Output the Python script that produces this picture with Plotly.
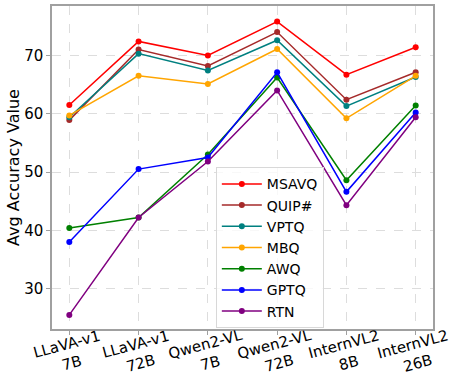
import plotly.graph_objects as go

categories = ["LLaVA-v1<br>7B", "LLaVA-v1<br>72B", "Qwen2-VL<br>7B", "Qwen2-VL<br>72B", "InternVL2<br>8B", "InternVL2<br>26B"]
msavq = [61.5, 72.4, 70.0, 75.8, 66.7, 71.4]
quip = [58.9, 71.0, 68.2, 74.0, 62.4, 67.1]
vptq = [59.4, 70.3, 67.4, 72.6, 61.3, 66.3]
mbq = [59.7, 66.5, 65.1, 71.1, 59.2, 66.5]
awq = [40.4, 42.2, 53.0, 66.2, 48.6, 61.4]
gptq = [38.0, 50.5, 52.5, 67.1, 46.6, 60.2]
rtn = [25.5, 42.2, 51.8, 64.0, 44.3, 59.4]

series = [("MSAVQ", msavq, "red"), ("QUIP#", quip, "brown"), ("VPTQ", vptq, "teal"),
          ("MBQ", mbq, "orange"), ("AWQ", awq, "green"), ("GPTQ", gptq, "blue"), ("RTN", rtn, "purple")]

xs = list(range(len(categories)))
fig = go.Figure()
for name, vals, col in series:
    fig.add_trace(go.Scatter(x=xs, y=vals, name=name, mode="lines+markers",
                             line=dict(color=col, width=1.5), marker=dict(color=col, size=6)))

font = "DejaVu Sans"
for i, lab in zip(xs, categories):
    fig.add_annotation(x=i, xref="x", y=-0.077, yref="paper", text=lab, showarrow=False,
                       textangle=-15, xanchor="center", yanchor="middle", font=dict(size=15), align="center")

fig.update_layout(
    width=451, height=376,
    margin=dict(l=52, r=18, t=6, b=47),
    plot_bgcolor="white", paper_bgcolor="white",
    font=dict(family=font, size=15, color="black"),
    legend=dict(x=0.43, y=0.5006, xanchor="left", yanchor="top", bgcolor="rgba(255,255,255,0.8)",
                bordercolor="#d8d8d8", borderwidth=1, font=dict(size=14), tracegroupgap=0, itemwidth=40),
    showlegend=True,
)
fig.update_xaxes(tickmode="array", tickvals=xs, ticktext=[""] * len(xs), automargin=False,
                 range=[-0.25, 5.25], showgrid=True, gridcolor="#dddddd", griddash="dash",
                 gridwidth=0.8, showline=True, linecolor="#a0a0a0", linewidth=1.5, mirror=True,
                 ticks="outside", ticklen=4, tickcolor="#a0a0a0", zeroline=False)
fig.update_yaxes(range=[23.08, 78.47], tickvals=[30, 40, 50, 60, 70], showgrid=True, gridcolor="#dddddd",
                 griddash="dash", gridwidth=0.8, showline=True, linecolor="#a0a0a0", linewidth=1.5, mirror=True,
                 ticks="outside", ticklen=4, tickcolor="#a0a0a0", tickfont=dict(size=15), zeroline=False,
                 automargin=False,
                 title=dict(text="Avg Accuracy Value", font=dict(size=16), standoff=1))
fig.write_html("out.html", config={"displayModeBar": False},
               post_script="document.body.style.margin='0';document.body.style.overflow='hidden';")
